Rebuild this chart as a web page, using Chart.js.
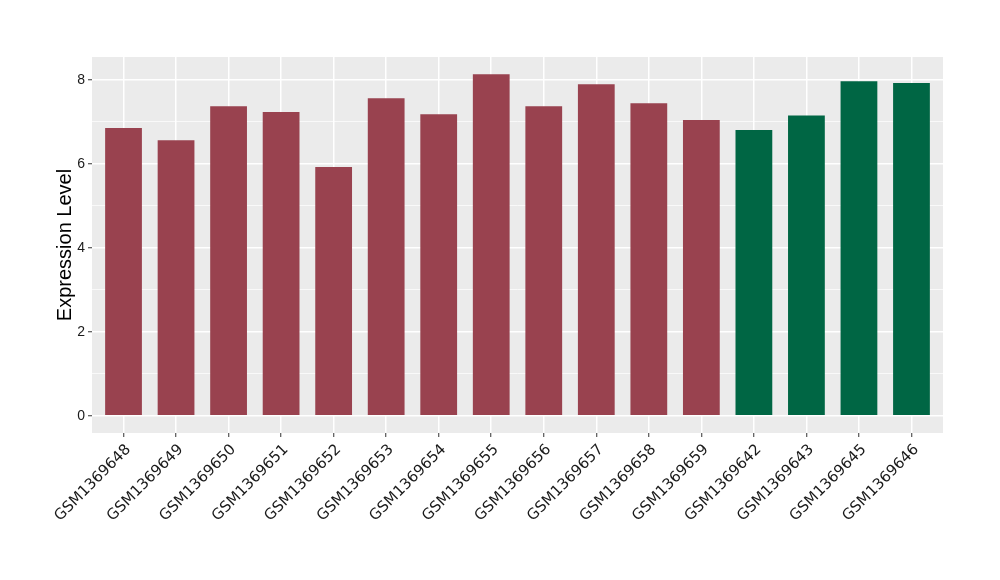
<!DOCTYPE html>
<html>
<head>
<meta charset="utf-8">
<script src="https://cdn.jsdelivr.net/npm/chart.js@4"></script>
<style>
html,body{margin:0;padding:0;background:#fff;}
#wrap{width:1000px;height:580px;}
</style>
</head>
<body>
<div id="wrap"><canvas id="c" width="1000" height="580"></canvas></div>
<script>
const categories = ["GSM1369648","GSM1369649","GSM1369650","GSM1369651","GSM1369652","GSM1369653","GSM1369654","GSM1369655","GSM1369656","GSM1369657","GSM1369658","GSM1369659","GSM1369642","GSM1369643","GSM1369645","GSM1369646"];
const values = [6.85,6.56,7.37,7.23,5.92,7.56,7.18,8.13,7.37,7.89,7.44,7.04,6.80,7.15,7.96,7.92];
const groups = ["a","a","a","a","a","a","a","a","a","a","a","a","b","b","b","b"];
const groupColors = {a:"#99424F", b:"#006644"};
const yTickLabels = [0,2,4,6,8];
const yMin = -0.41, yMax = 8.54;

const panelBg = {
  id:'panelBg',
  beforeDraw(chart){
    const {ctx, chartArea:a} = chart;
    ctx.save();
    ctx.fillStyle = '#EBEBEB';
    ctx.fillRect(a.left, a.top, a.right-a.left, a.bottom-a.top);
    ctx.restore();
  }
};

// shift rotated x labels so their top-right corner sits at the tick (ggplot hjust=1, vjust=1)
const shiftXLabels = {
  id:'shiftXLabels',
  afterUpdate(chart){
    const s = chart.scales.x;
    if (s.__patched) return;
    const orig = s.drawLabels.bind(s);
    s.drawLabels = function(area){
      const ctx = this.ctx;
      ctx.save();
      ctx.translate(5, 2);
      orig(area);
      ctx.restore();
    };
    s.__patched = true;
  }
};

new Chart(document.getElementById('c'), {
  type:'bar',
  data:{
    datasets:[{
      data:values.map((v,i)=>({x:i+1, y:v})),
      backgroundColor:groups.map(g=>groupColors[g]),
      borderWidth:0,
      categoryPercentage:1,
      barPercentage:0.7
    }]
  },
  options:{
    responsive:false,
    animation:false,
    devicePixelRatio:1,
    layout:{padding:{left:0, top:57, right:57, bottom:0}},
    plugins:{legend:{display:false}, tooltip:{enabled:false}},
    scales:{
      x:{
        type:'linear',
        min:0.4, max:categories.length+0.6,
        offset:false,
        afterBuildTicks(s){ s.ticks = categories.map((c,i)=>({value:i+1})); },
        grid:{color:'#FFFFFF', lineWidth:1.5, offset:false, drawTicks:true, tickLength:4, tickColor:'#333333', tickWidth:1},
        border:{display:false},
        ticks:{minRotation:45, maxRotation:45, autoSkip:false, color:'#1a1a1a', padding:2,
          font:{family:'DejaVu Sans', size:15},
          callback:(v)=> categories[Math.round(v)-1] || ''},
        afterFit(s){ s.height = 147; }
      },
      y:{
        min:yMin, max:yMax,
        afterBuildTicks(s){ s.ticks = [0,1,2,3,4,5,6,7,8].map(v=>({value:v})); },
        grid:{
          color:'#FFFFFF',
          lineWidth:(c)=> (c.tick && c.tick.value % 2 === 0) ? 1.5 : 0.7,
          drawTicks:true, tickLength:4,
          tickColor:(c)=> (c.tick && c.tick.value % 2 === 0) ? '#333333' : 'rgba(0,0,0,0)',
          tickWidth:1
        },
        border:{display:false},
        ticks:{
          color:'#1a1a1a', padding:3,
          font:{family:'Liberation Sans', size:14},
          callback:(v)=> yTickLabels.includes(v) ? String(v) : ''
        },
        title:{display:true, text:'Expression Level', color:'#000000',
          font:{family:'Liberation Sans', size:20}, padding:{top:53, bottom:0}},
        afterFit(s){ s.width = 92; }
      }
    }
  },
  plugins:[panelBg, shiftXLabels]
});
</script>
</body>
</html>
